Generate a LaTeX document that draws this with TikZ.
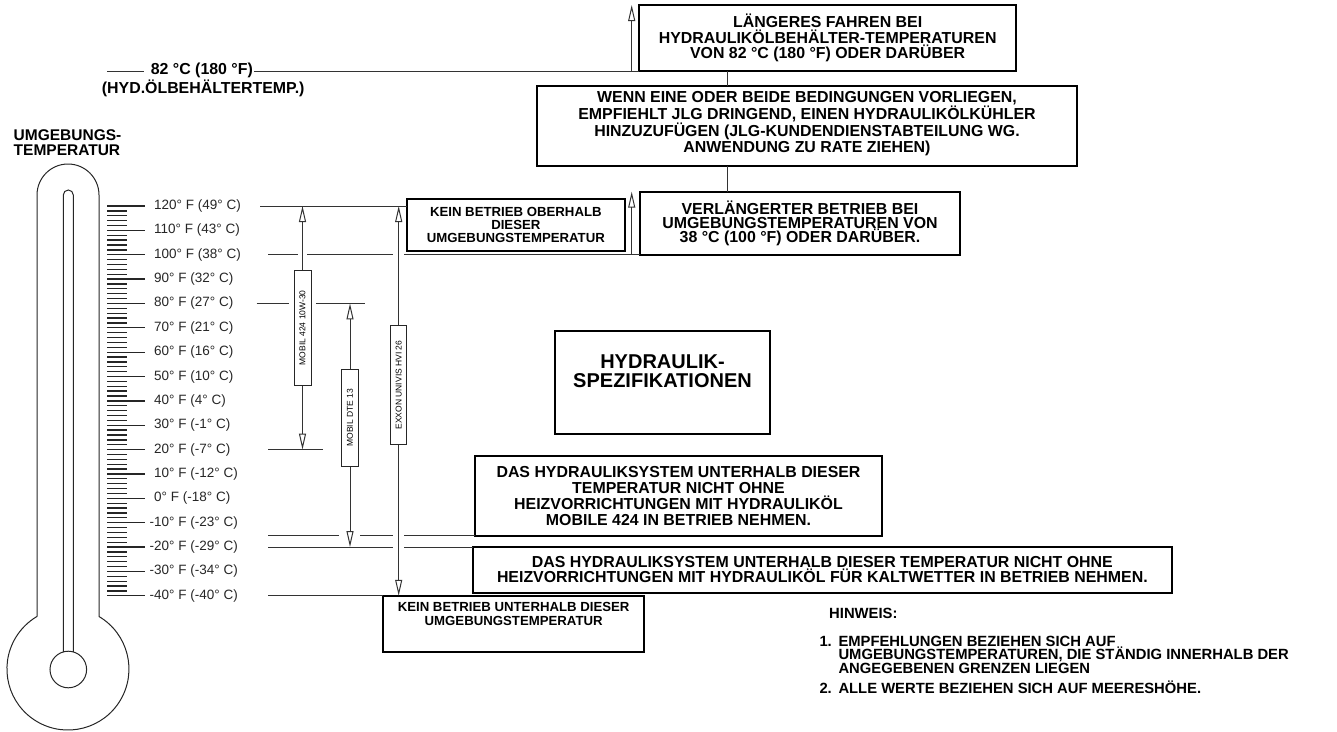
\documentclass[tikz,border=0pt]{standalone}
\usepackage{fontspec}
\setmainfont{Liberation Sans}
\usetikzlibrary{arrows.meta}

\begin{document}
\begin{tikzpicture}[x=1pt,y=-1pt,
  refline/.style={black!80,line width=1pt},
  scaletick/.style={black!85,line width=1.3pt},
  frame/.style={draw,line width=2.2pt,inner sep=0pt,outer sep=0pt},
  oilbar/.style={draw,black!85,line width=1pt,inner sep=0pt,text=black,font=\fontsize{8.5}{9}\selectfont},
  oarrow/.style={refline,-{Triangle[open,length=16pt,width=7pt]}},
  scaletext/.style={anchor=west,inner sep=0pt,text=black!85,font=\fontsize{13.5}{14}\selectfont},
  boldlabel/.style={inner sep=0pt,font=\bfseries\fontsize{15.9}{15}\selectfont},
  bigtext/.style={inner sep=0pt,align=center,font=\bfseries\fontsize{15.9}{15.3}\selectfont},
  smalltext/.style={inner sep=0pt,align=center,font=\bfseries\fontsize{13.2}{13.3}\selectfont}]
\useasboundingbox (0,0) rectangle (1337,731);

\draw[black!85,line width=1pt] (37,616.5) -- (37,195) arc[start angle=180,end angle=0,radius=31pt] -- (99,616.5) arc[start angle=59.4,end angle=-239.4,radius=61pt];
\draw[black!85,line width=1pt] (63.3,652) -- (63.3,195) arc[start angle=180,end angle=0,radius=5pt] -- (73.3,652);
\draw[black!85,line width=1pt] (68.3,669.5) circle[radius=18.3pt];
\node[anchor=north west,inner sep=0pt,align=left,font=\bfseries\fontsize{15.5}{15}\selectfont] (umg) at (13.5,129.5) {UMGEBUNGS-\\TEMPERATUR};

\foreach \k/\t in {0/{120° F (49° C)},1/{110° F (43° C)},2/{100° F (38° C)},3/{90° F (32° C)},4/{80° F (27° C)},5/{70° F (21° C)},6/{60° F (16° C)},7/{50° F (10° C)},8/{40° F (4° C)},9/{30° F (-1° C)},10/{20° F (-7° C)},11/{10° F (-12° C)},12/{0° F (-18° C)},13/{\llap{-}10° F (-23° C)},14/{\llap{-}20° F (-29° C)},15/{\llap{-}30° F (-34° C)},16/{\llap{-}40° F (-40° C)}}{
  \draw[scaletick] (107,{206+24.36*\k}) -- (145,{206+24.36*\k});
  \node[scaletext] (s\k) at (154,{206+24.36*\k}) {\t};
}
\foreach \k in {0,...,15}
  \foreach \j in {1,...,4}
    \draw[scaletick] (107,{206+24.36*\k+4.872*\j}) -- (127,{206+24.36*\k+4.872*\j});

\coordinate (l120) at (260,206);
\coordinate (l100) at (268,254.72);
\coordinate (l80) at (256.7,303.44);
\coordinate (r80) at (365,303.44);
\coordinate (l20) at (268.3,449.6);
\coordinate (r20) at (322.7,449.6);
\coordinate (l15) at (268,535.7);
\coordinate (l20m) at (268,547.04);
\coordinate (l40m) at (268,595.76);
\coordinate (h82) at (107.3,71);
\coordinate (sp) at (727.7,0);

\node[frame,bigtext,minimum width=376.7pt,minimum height=66pt] (lb) at (827.65,38) {LÄNGERES FAHREN BEI\\HYDRAULIKÖLBEHÄLTER-TEMPERATUREN\\VON 82 °C (180 °F) ODER DARÜBER};
\node[frame,minimum width=540pt,minimum height=80pt] (wb) at (807,126) {};
\node[bigtext,anchor=north,font=\bfseries\fontsize{15.9}{13.8}\selectfont] (wbt) at ([yshift=-5pt]wb.north) {WENN EINE ODER BEIDE BEDINGUNGEN VORLIEGEN,\\EMPFIEHLT JLG DRINGEND, EINEN HYDRAULIKÖLKÜHLER\\HINZUZUFÜGEN (JLG-KUNDENDIENSTABTEILUNG WG.\\ANWENDUNG ZU RATE ZIEHEN)};
\node[frame,bigtext,font=\bfseries\fontsize{15.9}{14.2}\selectfont,minimum width=320pt,minimum height=63pt] (vb) at (800,223.2) {VERLÄNGERTER BETRIEB BEI\\UMGEBUNGSTEMPERATUREN VON\\38 °C (100 °F) ODER DARÜBER.};
\node[frame,smalltext,minimum width=218.3pt,minimum height=51.7pt] (ob) at (515.85,224.85) {KEIN BETRIEB OBERHALB\\DIESER\\UMGEBUNGSTEMPERATUR};
\node[frame,minimum width=215pt,minimum height=103.3pt] (hs) at (662.5,382.65) {};
\node[anchor=north,inner sep=0pt,align=center,font=\bfseries\fontsize{20}{18.3}\selectfont] (hst) at ([yshift=-24pt]hs.north) {HYDRAULIK-\\SPEZIFIKATIONEN};
\node[frame,bigtext,font=\bfseries\fontsize{15.9}{16}\selectfont,minimum width=407pt,minimum height=80pt] (d1) at (678.5,495.7) {DAS HYDRAULIKSYSTEM UNTERHALB DIESER\\TEMPERATUR NICHT OHNE\\HEIZVORRICHTUNGEN MIT HYDRAULIKÖL\\MOBILE 424 IN BETRIEB NEHMEN.};
\node[frame,bigtext,minimum width=698.7pt,minimum height=45.7pt] (d2) at (822.35,569.85) {DAS HYDRAULIKSYSTEM UNTERHALB DIESER TEMPERATUR NICHT OHNE\\HEIZVORRICHTUNGEN MIT HYDRAULIKÖL FÜR KALTWETTER IN BETRIEB NEHMEN.};
\node[frame,minimum width=260.7pt,minimum height=56pt] (kb) at (513.65,623.7) {};
\node[smalltext,anchor=north,font=\bfseries\fontsize{13.2}{14.3}\selectfont] (kbt) at ([yshift=-6.3pt]kb.north) {KEIN BETRIEB UNTERHALB DIESER\\UMGEBUNGSTEMPERATUR};

\node[oilbar,minimum width=17pt,minimum height=114.3pt] (m424) at (302.5,327.85) {\rotatebox{90}{MOBIL 424 10W-30}};
\node[oilbar,minimum width=16.6pt,minimum height=97.7pt] (dte) at (350,417.85) {\rotatebox{90}{MOBIL DTE 13}};
\node[oilbar,minimum width=16pt,minimum height=119pt] (exx) at (398.7,385) {\rotatebox{90}{EXXON UNIVIS HVI 26}};

\draw[oarrow] (m424.north) -- (m424.north |- l120);
\draw[oarrow] (m424.south) -- (m424.south |- l20);
\draw[oarrow] (dte.north) -- (dte.north |- l80);
\draw[oarrow] (dte.south) -- (dte.south |- l20m);
\draw[oarrow] (exx.north) -- (exx.north |- l120);
\draw[oarrow] (exx.south) -- (exx.south |- l40m);

\draw[refline] (l120) -- (l120 -| ob.west);
\draw[refline] (l100) -- ([xshift=-4.7pt]l100 -| m424) ([xshift=4.7pt]l100 -| m424) -- ([xshift=-5.3pt]l100 -| exx) ([xshift=5.3pt]l100 -| exx) -- (l100 -| vb.west);
\draw[refline] (l80) -- ([xshift=-4.5pt]l80 -| m424.west) ([xshift=4.5pt]l80 -| m424.east) -- (r80);
\draw[refline] (l20) -- (r20);
\draw[refline] (l15) -- ([xshift=-11pt]l15 -| dte) ([xshift=10pt]l15 -| dte) -- ([xshift=-5.3pt]l15 -| exx) ([xshift=5.3pt]l15 -| exx) -- (l15 -| d1.west);
\draw[refline] (l20m) -- ([xshift=-5.3pt]l20m -| exx) ([xshift=5.3pt]l20m -| exx) -- (l20m -| d2.west);
\draw[refline] (l40m) -- (l40m -| kb.west);

\node[boldlabel,anchor=west] (t82) at (150.7,70.5) {82 °C (180 °F)};
\node[boldlabel,anchor=west] (hyd) at (101.7,88.3) {(HYD.ÖLBEHÄLTERTEMP.)};
\draw[refline] (h82) -- ([xshift=-7pt]t82.west |- h82);
\draw[refline] ([xshift=1pt]t82.east |- h82) -- (h82 -| lb.west);
\draw[oarrow] ([xshift=-7.6pt]lb.south west) -- ([xshift=-7.6pt]lb.north west);
\draw[oarrow] ([xshift=-8.3pt]vb.south west) -- ([xshift=-8.3pt]vb.north west);
\draw[refline] (sp |- lb.south) -- (sp |- wb.north) (sp |- wb.south) -- (sp |- vb.north);

\node[boldlabel,anchor=west,font=\bfseries\fontsize{14.8}{13.5}\selectfont] (hinw) at (829,613) {HINWEIS:};
\node[anchor=north west,inner sep=0pt,align=left,font=\bfseries\fontsize{14.8}{13.6}\selectfont] (n1) at (819.3,635.6) {\makebox[19pt][l]{1.}EMPFEHLUNGEN BEZIEHEN SICH AUF\\\hspace*{19pt}UMGEBUNGSTEMPERATUREN, DIE STÄNDIG INNERHALB DER\\\hspace*{19pt}ANGEGEBENEN GRENZEN LIEGEN};
\node[anchor=west,inner sep=0pt,font=\bfseries\fontsize{14.8}{13.6}\selectfont] (n2) at (819.3,687) {\makebox[19pt][l]{2.}ALLE WERTE BEZIEHEN SICH AUF MEERESHÖHE.};
\end{tikzpicture}
\end{document}
